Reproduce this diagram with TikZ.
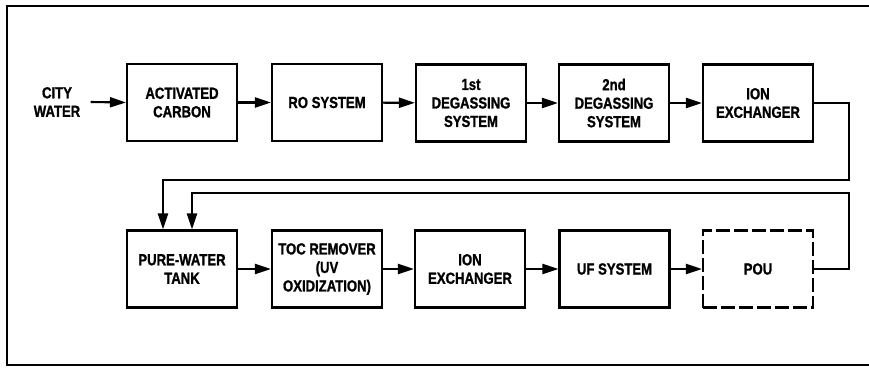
\documentclass[tikz,border=0pt]{standalone}
\usepackage{fontspec}
\setmainfont{Liberation Sans}[FakeStretch=0.82,BoldFeatures={FakeBold=1.2}]
\usetikzlibrary{arrows.meta}
\begin{document}
\begin{tikzpicture}[x=1pt,y=-1pt,
  line width=2.1pt,
  box/.style={draw,minimum width=110pt,minimum height=77pt,align=center,inner sep=2pt,
    font=\fontsize{16}{18.5}\selectfont\bfseries},
  lbl/.style={align=center,font=\fontsize{16}{18.5}\selectfont\bfseries},
  arr/.style={-{Triangle[length=16pt,width=10pt]}},
  dashbox/.style={box,dash pattern=on 14pt off 4pt}]
\useasboundingbox (0,0) rectangle (869,369);
\draw (869,6) -- (7,6) -- (7,365) -- (869,365);
% top row
\node[lbl] (city) at (57,102) {CITY\\WATER};
\node[box] (ac) at (182,102.5) {ACTIVATED\\CARBON};
\node[box] (ro) at (327,102.5) {RO SYSTEM};
\node[box] (dg1) at (471,103) {1st\\DEGASSING\\SYSTEM};
\node[box] (dg2) at (614,103) {2nd\\DEGASSING\\SYSTEM};
\node[box] (ie1) at (758,103) {ION\\EXCHANGER};
% bottom row
\node[box] (pwt) at (182,269) {PURE-WATER\\TANK};
\node[box] (toc) at (327,269) {TOC REMOVER\\(UV\\OXIDIZATION)};
\node[box] (ie2) at (470,269) {ION\\EXCHANGER};
\node[box] (uf) at (614.5,269) {UF SYSTEM};
\node[dashbox] (pou) at (758,269) {POU};
% corners
\coordinate (c1) at (849,180);
\coordinate (c2) at (849,193);
% connectors
\draw[arr] ([xshift=6pt]city.east) -- (ac.west);
\draw[arr] (ac) -- (ro);
\draw[arr] (ro) -- (dg1);
\draw[arr] (dg1) -- (dg2);
\draw[arr] (dg2) -- (ie1);
\draw[arr] (ie1.east) -| (c1) -| ([xshift=-19pt]pwt.north);
\draw[arr] (pou.east) -| (c2) -| ([xshift=10pt]pwt.north);
\draw[arr] (pwt) -- (toc);
\draw[arr] (toc) -- (ie2);
\draw[arr] (ie2) -- (uf);
\draw[arr] (uf) -- (pou);
\end{tikzpicture}
\end{document}
